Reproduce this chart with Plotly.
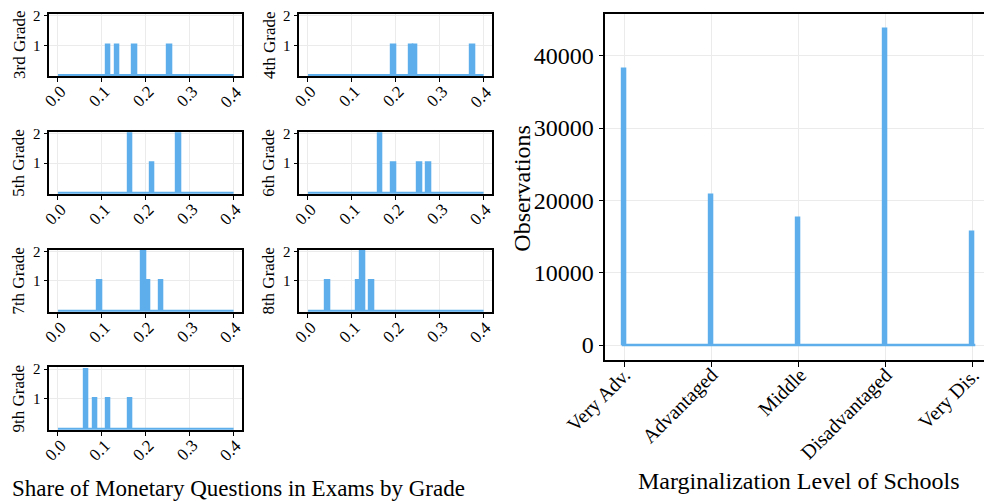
import plotly.graph_objects as go

# ---------------- data ----------------
grades = ["3rd Grade", "4th Grade", "5th Grade", "6th Grade", "7th Grade", "8th Grade", "9th Grade"]
# histogram bins (width 0.01) with non-zero counts: bin centres and counts
grade_bin_centers = [
    [0.115, 0.135, 0.175, 0.255],
    [0.195, 0.235, 0.245, 0.375],
    [0.165, 0.215, 0.275],
    [0.165, 0.195, 0.255, 0.275],
    [0.095, 0.195, 0.205, 0.235],
    [0.045, 0.115, 0.125, 0.145],
    [0.065, 0.085, 0.115, 0.165],
]
grade_bin_counts = [
    [1, 1, 1, 1],
    [1, 1, 1, 1],
    [2, 1, 2],
    [2, 1, 1, 1],
    [1, 2, 1, 1],
    [1, 1, 2, 1],
    [2, 1, 1, 1],
]
share_bin_width = 0.01
share_range = [0.0, 0.4]
share_ticks = [0.0, 0.1, 0.2, 0.3, 0.4]
share_ticktext = ["0.0", "0.1", "0.2", "0.3", "0.4"]
count_ticks = [1, 2]

marg_levels = ["Very Adv.", "Advantaged", "Middle", "Disadvantaged", "Very Dis."]
marg_obs = [38200, 20800, 17550, 43750, 15650]
obs_ticks = [0, 10000, 20000, 30000, 40000]

# ---------------- layout helpers ----------------
W, H = 984, 501
BLUE = "#5EAEEC"
GRID = "#EBEBEB"
FONT = "Liberation Serif"

def px_x(v):
    return v / W

def px_y(v):
    return 1 - v / H

col_px = [(49.3, 242.3), (299.3, 492.3)]
row_px = [(14.0, 76.3), (131.8, 194.0), (249.6, 312.0), (367.4, 430.0)]

fig = go.Figure()
annotations = []

for i, g in enumerate(grades):
    r, c = divmod(i, 2)
    ax = i + 1
    xa = "x" if ax == 1 else f"x{ax}"
    ya = "y" if ax == 1 else f"y{ax}"
    # baseline (empty bins)
    fig.add_trace(go.Scatter(x=share_range, y=[0, 0], mode="lines",
                             line=dict(color=BLUE, width=2), xaxis=xa, yaxis=ya,
                             showlegend=False, hoverinfo="skip"))
    fig.add_trace(go.Bar(x=grade_bin_centers[i], y=grade_bin_counts[i], width=share_bin_width,
                         marker=dict(color=BLUE, line=dict(color=BLUE, width=1.5)),
                         xaxis=xa, yaxis=ya, showlegend=False))
    x0, x1 = col_px[c]
    t, b = row_px[r]
    common = dict(showline=True, linecolor="black", linewidth=1.5, mirror=True,
                  ticks="outside", ticklen=4, tickwidth=1, tickcolor="black",
                  showgrid=True, gridcolor=GRID, gridwidth=1, zeroline=False,
                  tickfont=dict(family=FONT, size=15, color="black"))
    fig.layout[f"xaxis{ax if ax > 1 else ''}"] = dict(
        domain=[px_x(x0), px_x(x1)], anchor=ya, range=[-0.0198, 0.4198],
        tickvals=share_ticks, showticklabels=False, **common)
    fig.layout[f"yaxis{ax if ax > 1 else ''}"] = dict(
        domain=[px_y(b), px_y(t)], anchor=xa, range=[-0.044, 2.057],
        tickvals=count_ticks, ticktext=[str(v) for v in count_ticks], **common)
    # rotated x tick labels
    for tv, tt in zip(share_ticks, share_ticktext):
        annotations.append(dict(text=tt, x=tv, xref=xa, y=px_y(b + 5), yref="paper",
                                xanchor="right", yanchor="top", xshift=13, textangle=-45,
                                showarrow=False, borderpad=0,
                                font=dict(family=FONT, size=17, color="black")))
    annotations.append(dict(text=g, x=px_x(18.8 + 250 * c), y=px_y((t + b) / 2),
                            xref="paper", yref="paper", showarrow=False, textangle=-90,
                            xanchor="center", yanchor="middle",
                            font=dict(family=FONT, size=17, color="black")))

# right panel
cat_pos = list(range(len(marg_levels)))
fig.add_trace(go.Scatter(x=[cat_pos[0] - 0.03, cat_pos[-1] + 0.03], y=[0, 0], mode="lines",
                         line=dict(color=BLUE, width=2.5), xaxis="x8", yaxis="y8",
                         showlegend=False, hoverinfo="skip"))
fig.add_trace(go.Bar(x=cat_pos, y=marg_obs, width=0.048,
                     marker=dict(color=BLUE, line=dict(color=BLUE, width=1.5)),
                     xaxis="x8", yaxis="y8", showlegend=False))
right_common = dict(linecolor="black", linewidth=1.5, showline=True,
                    ticks="outside", ticklen=5, tickwidth=1, tickcolor="black",
                    showgrid=True, gridcolor=GRID, gridwidth=1, zeroline=False,
                    tickfont=dict(family=FONT, size=24, color="black"))
fig.layout["xaxis8"] = dict(domain=[px_x(605.3), 1.0], anchor="y8", range=[-0.218, 4.13],
                            tickvals=cat_pos, showticklabels=False,
                            mirror=True, **right_common)
fig.layout["yaxis8"] = dict(domain=[px_y(360), px_y(14)], anchor="x8", range=[-2075, 45780],
                            tickvals=obs_ticks, ticktext=[str(v) for v in obs_ticks],
                            mirror=False, **right_common)
for cp, lab in zip(cat_pos, marg_levels):
    annotations.append(dict(text=lab, x=cp, xref="x8", y=px_y(362), yref="paper",
                            xanchor="right", yanchor="top", xshift=13, textangle=-45,
                            showarrow=False, borderpad=0,
                            font=dict(family=FONT, size=20, color="black")))

annotations.append(dict(text="Observations", x=px_x(521.7), y=px_y(188), xref="paper", yref="paper",
                        showarrow=False, textangle=-90, xanchor="center", yanchor="middle",
                        font=dict(family=FONT, size=24, color="black")))
annotations.append(dict(text="Marginalization Level of Schools", x=px_x(798.4), y=px_y(481),
                        xref="paper", yref="paper", showarrow=False, xanchor="center", yanchor="middle",
                        font=dict(family=FONT, size=24, color="black")))
annotations.append(dict(text="Share of Monetary Questions in Exams by Grade", x=px_x(238.5), y=px_y(488),
                        xref="paper", yref="paper", showarrow=False, xanchor="center", yanchor="middle",
                        font=dict(family=FONT, size=23, color="black")))

fig.update_layout(width=W, height=H, margin=dict(l=0, r=0, t=0, b=0),
                  template="none", paper_bgcolor="white", plot_bgcolor="white",
                  font=dict(family=FONT, color="black"), bargap=0, annotations=annotations,
                  showlegend=False)

fig.write_html("out.html")
